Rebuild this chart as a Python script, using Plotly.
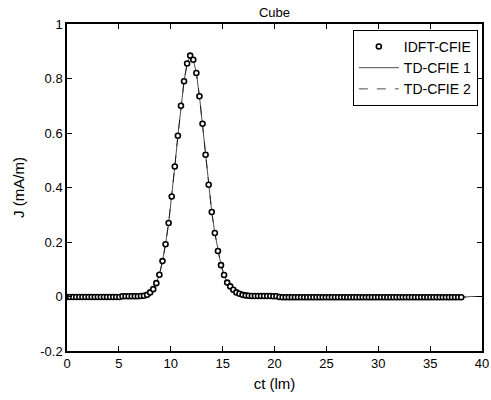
import numpy as np
import plotly.graph_objects as go

# Sample step of the IDFT result (129 samples over 0..38 lm)
DT = 38 / 128

# IDFT-CFIE samples, J in mA/m
idft_j = [
    -0.002, -0.002, -0.002, -0.002, -0.002, -0.002, -0.002, -0.002, -0.002, -0.002,
    -0.002, -0.002, -0.002, -0.002, -0.002, -0.002, -0.002, -0.002, 0.001, 0.001,
    0.001, 0.001, 0.001, 0.001, 0.002, 0.003, 0.006, 0.015, 0.027, 0.049,
    0.080, 0.130, 0.192, 0.270, 0.367, 0.477, 0.590, 0.700, 0.790, 0.855,
    0.884, 0.869, 0.820, 0.735, 0.634, 0.520, 0.410, 0.310, 0.233, 0.167,
    0.115, 0.079, 0.051, 0.037, 0.025, 0.015, 0.010, 0.006, 0.004, 0.003,
    0.002, 0.002, 0.002, 0.002, 0.002, 0.002, 0.002, 0.001, 0.001, -0.002,
    -0.003, -0.003, -0.003, -0.003, -0.003, -0.003, -0.003, -0.003, -0.003, -0.003,
    -0.003, -0.003, -0.003, -0.003, -0.003, -0.003, -0.003, -0.003, -0.003, -0.003,
    -0.003, -0.003, -0.003, -0.003, -0.003, -0.003, -0.003, -0.003, -0.003, -0.003,
    -0.003, -0.003, -0.003, -0.003, -0.003, -0.003, -0.003, -0.003, -0.003, -0.003,
    -0.003, -0.003, -0.003, -0.003, -0.003, -0.003, -0.003, -0.003, -0.003, -0.003,
    -0.003, -0.003, -0.003, -0.003, -0.003, -0.003, -0.003, -0.003, -0.003,
]
idft_ct = DT * np.arange(len(idft_j))

# TD-CFIE curves follow the IDFT result and run on to the end of the axis
td_ct = list(idft_ct) + [39.0, 40.0]
td1_j = idft_j + [0.0, 0.0]
td2_j = idft_j + [0.0, 0.0]

# Axis ticks
x_ticks = [0, 5, 10, 15, 20, 25, 30, 35, 40]
y_ticks = [-0.2, 0, 0.2, 0.4, 0.6, 0.8, 1]
y_labels = ["-0.2", "0", "0.2", "0.4", "0.6", "0.8", "1"]

fig = go.Figure()

fig.add_trace(go.Scatter(x=td_ct, y=td1_j, mode="lines", name="TD-CFIE 1",
                         line=dict(color="black", width=0.7), legendrank=2))
fig.add_trace(go.Scatter(x=td_ct, y=td2_j, mode="lines", name="TD-CFIE 2",
                         line=dict(color="black", width=0.7, dash="dash"), legendrank=3))
fig.add_trace(go.Scatter(x=idft_ct, y=idft_j, mode="markers", name="IDFT-CFIE",
                         marker=dict(symbol="circle", size=5, color="white",
                                     line=dict(color="black", width=1.6)),
                         legendrank=1))

axis_style = dict(showgrid=False, zeroline=False, showline=True, linecolor="black",
                  linewidth=1.5, mirror="ticks", ticks="inside", ticklen=5,
                  tickcolor="black", tickfont=dict(size=13, color="black"),
                  automargin=False)

fig.update_xaxes(range=[0, 40], tickvals=x_ticks,
                 title=dict(text="ct (lm)", font=dict(size=15), standoff=8), **axis_style)
fig.update_yaxes(range=[-0.2, 1], tickvals=y_ticks, ticktext=y_labels,
                 title=dict(text="J (mA/m)", font=dict(size=15), standoff=12), **axis_style)

fig.update_layout(
    width=491, height=400,
    font=dict(family="Liberation Sans, Arial, sans-serif", color="black"),
    title=dict(text="Cube", x=0.5, xref="paper", xanchor="center", y=0.97, yanchor="middle",
               font=dict(size=13)),
    plot_bgcolor="white", paper_bgcolor="white",
    margin=dict(l=67, r=9, t=24, b=49),
    legend=dict(x=0.99, y=0.982, xanchor="right", yanchor="top",
                bordercolor="black", borderwidth=1, bgcolor="white",
                font=dict(size=14), tracegroupgap=0, itemwidth=40),
    showlegend=True,
)

# drop the default page margin so the figure sits at the window corner
fig.write_html("out.html", config={"displayModeBar": False},
               post_script="document.body.style.margin='0px';document.body.style.overflow='hidden';")
